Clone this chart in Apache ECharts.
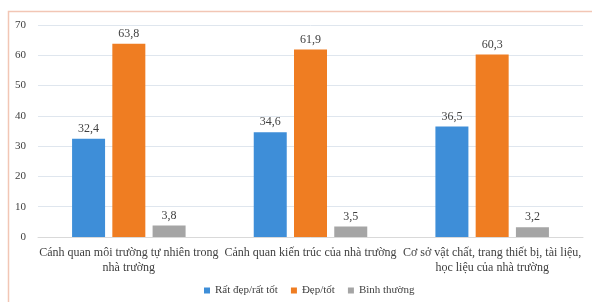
<!DOCTYPE html>
<html><head><meta charset="utf-8">
<script src="https://cdn.jsdelivr.net/npm/echarts@6/dist/echarts.min.js"></script>
<style>html,body{margin:0;padding:0;background:#fff}#c{width:592px;height:302px}</style>
</head><body><div id="c"></div>
<script>
const categories = [
  'Cánh quan môi trường tự nhiên trong\nnhà trường',
  'Cảnh quan kiến trúc của nhà trường',
  'Cơ sở vật chất, trang thiết bị, tài liệu,\nhọc liệu của nhà trường'
];
const seriesNames = ['Rất đẹp/rất tốt', 'Đẹp/tốt', 'Bình thường'];
const veryGood = [32.4, 34.6, 36.5];
const good = [63.8, 61.9, 60.3];
const normal = [3.8, 3.5, 3.2];
const colors = ['#3e8ed8', '#ef7d22', '#a5a5a5'];
const FONT = '"Liberation Serif", "DejaVu Serif", serif';

const chart = echarts.init(document.getElementById('c'));
const mk = (name, data, color) => ({
  name, type: 'bar', data, barWidth: 33,
  itemStyle: { color },
  label: { show: true, position: 'top', distance: 4, color: '#404040', fontFamily: FONT, fontSize: 12,
    formatter: p => String(p.value).replace('.', ',') }
});
chart.setOption({
  animation: false,
  textStyle: { fontFamily: FONT },
  graphic: [{ type: 'rect', shape: { x: 8.5, y: 11.5, width: 620, height: 320 },
    style: { fill: 'none', stroke: '#f2c6b5', lineWidth: 1.5 } }],
  grid: { left: 38, right: 9, top: 25, bottom: 65 },
  legend: {
    data: seriesNames, bottom: 1, left: 199, icon: 'rect', itemWidth: 6, itemHeight: 6, itemGap: 13,
    textStyle: { fontFamily: FONT, fontSize: 11, color: '#404040' }
  },
  xAxis: {
    type: 'category', data: categories,
    axisLine: { lineStyle: { color: '#d9d9d9' } }, axisTick: { show: false },
    axisLabel: { fontFamily: FONT, fontSize: 12, color: '#404040', margin: 8, lineHeight: 15, interval: 0 }
  },
  yAxis: {
    type: 'value', min: 0, max: 70, interval: 10,
    axisLabel: { fontFamily: FONT, fontSize: 11, color: '#404040', margin: 12 },
    splitLine: { lineStyle: { color: '#dfe6ee' } }
  },
  series: [mk(seriesNames[0], veryGood, colors[0]), mk(seriesNames[1], good, colors[1]), mk(seriesNames[2], normal, colors[2])].map(s => Object.assign(s, { barGap: '22%' }))
});
</script></body></html>
